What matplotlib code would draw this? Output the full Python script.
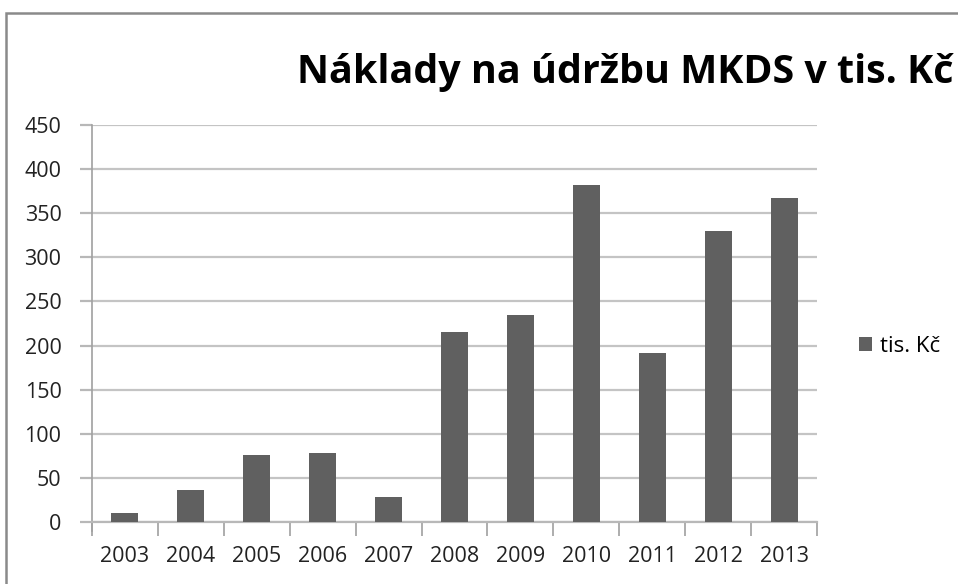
import matplotlib.pyplot as plt
from matplotlib.patches import Rectangle

# data
years = ['2003', '2004', '2005', '2006', '2007', '2008', '2009', '2010', '2011', '2012', '2013']
costs = [10, 36, 76, 78, 28, 215, 235, 382, 191, 330, 367]
series_name = 'tis. Kč'
title = 'Náklady na údržbu MKDS v tis. Kč'
y_ticks = [0, 50, 100, 150, 200, 250, 300, 350, 400, 450]

plt.rcParams['font.family'] = ['Open Sans', 'DejaVu Sans']

fig = plt.figure(figsize=(9.58, 5.84), dpi=100)
fig.patch.set_facecolor('white')

# chart frame (cut off at right and bottom like the screenshot)
fig.patches.append(Rectangle((6 / 958, -0.1), 1.2, 1 - 13 / 584 + 0.1,
                             transform=fig.transFigure, fill=False,
                             edgecolor='#8a8a8a', linewidth=1.8))

ax = fig.add_axes([92 / 958, 1 - 522 / 584, (817 - 92) / 958, (522 - 125) / 584])

x = list(range(len(years)))
ax.bar(x, costs, width=0.41, color='#606060', label=series_name, zorder=3)

ax.set_xlim(-0.5, len(years) - 0.5)
ax.set_ylim(0, 450)
ax.set_yticks(y_ticks)
ax.set_yticklabels([str(v) for v in y_ticks], fontsize=15.5, color='#222222')
ax.set_xticks(x)
ax.set_xticklabels(years, fontsize=15.5, color='#222222')
ax.set_xticks([i - 0.5 for i in range(len(years) + 1)], minor=True)

ax.tick_params(axis='x', which='major', length=0, pad=17)
ax.tick_params(axis='x', which='minor', length=10, color='#a0a0a0', width=1.2)
ax.tick_params(axis='y', length=9, color='#b8b8b8', width=1.6, pad=13)

ax.grid(axis='y', color='#c4c4c4', linewidth=1.6, zorder=0)
for s in ['top', 'right']:
    ax.spines[s].set_visible(False)
ax.spines['left'].set_color('#a0a0a0')
ax.spines['left'].set_linewidth(1.2)
ax.spines['bottom'].set_color('#b8b8b8')
ax.spines['bottom'].set_linewidth(1.6)
ax.spines['left'].set_bounds(-10, 450)

fig.text(297 / 958, 1 - 83 / 584, title, fontsize=28.4, fontweight='bold',
         ha='left', va='baseline', color='black')

ax.legend(loc='center left', bbox_to_anchor=(859 / 958, 1 - 346 / 584),
          bbox_transform=fig.transFigure, frameon=False, fontsize=16,
          handlelength=0.6, handleheight=0.6, handletextpad=0.35, borderaxespad=0,
          borderpad=0)

fig.savefig('out.png', dpi=100, facecolor='white')
